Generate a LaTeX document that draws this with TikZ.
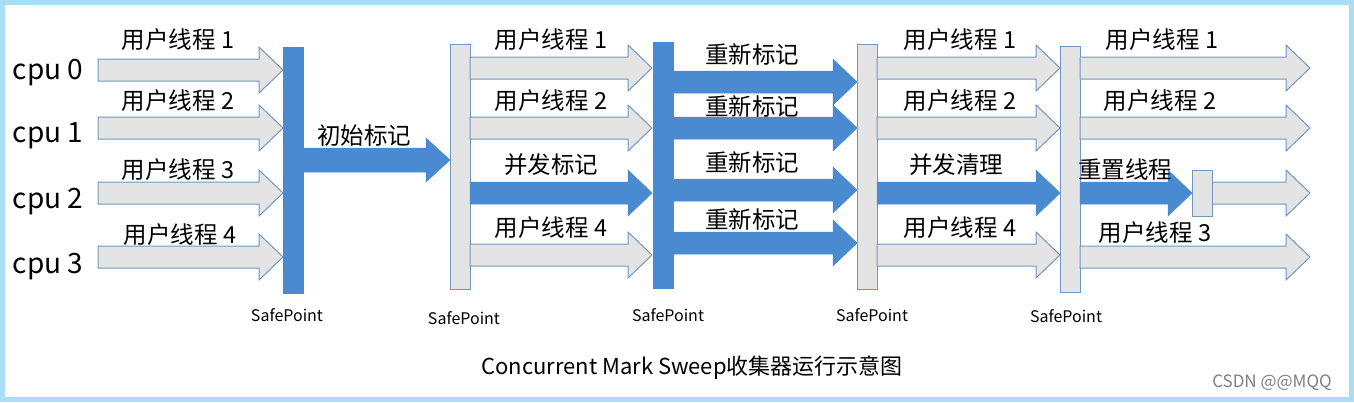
\documentclass[tikz,border=0pt]{standalone}
\usepackage{fontspec}
\setmainfont{Noto Sans CJK SC}
\definecolor{gfill}{HTML}{E4E4E4}
\definecolor{gline}{HTML}{6F97C4}
\definecolor{bfill}{HTML}{4A8AD0}
\definecolor{frame}{HTML}{A9DDF6}
\tikzset{
 garrow/.style={fill=gfill,draw=gline,line width=1pt},
 barrow/.style={fill=bfill,draw=bfill,line width=0.5pt},
 gbar/.style={fill=gfill,draw=gline,line width=1pt},
 bbar/.style={fill=bfill,draw=bfill},
 lbl/.style={font=\fontsize{23.5}{26}\selectfont,inner sep=0pt},
 cpu/.style={font=\fontsize{28}{32}\selectfont,inner sep=0pt},
 sp/.style={font=\fontsize{16}{18}\selectfont,inner sep=0pt},
}
\newcommand\myarr[4]{\path[#1] (#2,{#4-11}) -- ({#3-24},{#4-11}) -- ({#3-24},{#4-23}) -- (#3,#4) -- ({#3-24},{#4+23}) -- ({#3-24},{#4+11}) -- (#2,{#4+11}) -- cycle;}
\begin{document}
\begin{tikzpicture}[x=1pt,y=-1pt]
\useasboundingbox (0,0) rectangle (1354,402);
\fill[white] (0,0) rectangle (1354,402);
\draw[frame,line width=5pt] (2.5,2.5) rectangle (1351.5,399.5);
% cpu labels
\node[cpu] (c0) at (48,73) {cpu 0};
\node[cpu] (c1) at (48,136) {cpu 1};
\node[cpu] (c2) at (48,202) {cpu 2};
\node[cpu] (c3) at (48,267) {cpu 3};
% column 1
\myarr{garrow}{98}{283}{70}
\myarr{garrow}{98}{283}{128}
\myarr{garrow}{98}{283}{193}
\myarr{garrow}{98}{283}{257}
\node[lbl] (l11) at (178,40) {用户线程 1};
\node[lbl] (l12) at (178,101) {用户线程 2};
\node[lbl] (l13) at (178,170) {用户线程 3};
\node[lbl] (l14) at (180,235) {用户线程 4};
\node[bbar,minimum width=20pt,minimum height=246pt,inner sep=0pt] (b1) at (293,170) {};
% initial mark
\path[barrow] (303,148) -- (426,148) -- (426,138) -- (450,160) -- (426,182) -- (426,172) -- (303,172) -- cycle;
\node[lbl] (im) at (364,136) {初始标记};
% bar 2
\node[gbar,minimum width=20pt,minimum height=245pt,inner sep=0pt] (b2) at (460,167) {};
\myarr{garrow}{470}{652}{68}
\myarr{garrow}{470}{652}{128}
\myarr{barrow}{470}{652}{193}
\myarr{garrow}{470}{652}{255}
\node[lbl] (l21) at (551,40) {用户线程 1};
\node[lbl] (l22) at (551,101) {用户线程 2};
\node[lbl] (l23) at (551,165) {并发标记};
\node[lbl] (l24) at (551,228) {用户线程 4};
% bar 3
\node[bbar,minimum width=20pt,minimum height=246pt,inner sep=0pt] (b3) at (663,165) {};
\myarr{barrow}{673}{857}{82}
\myarr{barrow}{673}{857}{128}
\myarr{barrow}{673}{857}{190}
\myarr{barrow}{673}{857}{243}
\node[lbl] (l31) at (752,55) {重新标记};
\node[lbl] (l32) at (752,107) {重新标记};
\node[lbl] (l33) at (752,163) {重新标记};
\node[lbl] (l34) at (752,220) {重新标记};
% bar 4
\node[gbar,minimum width=20pt,minimum height=245pt,inner sep=0pt] (b4) at (867,167) {};
\myarr{garrow}{877}{1060}{68}
\myarr{garrow}{877}{1060}{128}
\myarr{barrow}{877}{1060}{193}
\myarr{garrow}{877}{1060}{255}
\node[lbl] (l41) at (960,40) {用户线程 1};
\node[lbl] (l42) at (960,101) {用户线程 2};
\node[lbl] (l43) at (956,165) {并发清理};
\node[lbl] (l44) at (960,228) {用户线程 4};
% bar 5
\node[gbar,minimum width=20pt,minimum height=246pt,inner sep=0pt] (b5) at (1070,169) {};
\myarr{garrow}{1080}{1310}{68}
\myarr{garrow}{1080}{1310}{128}
\myarr{barrow}{1080}{1192}{193}
\myarr{garrow}{1212}{1310}{193}
\myarr{garrow}{1080}{1310}{257}
\node[gbar,minimum width=20pt,minimum height=46pt,inner sep=0pt] (rb) at (1202,193) {};
\node[lbl] (l51) at (1162,40) {用户线程 1};
\node[lbl] (l52) at (1160,101) {用户线程 2};
\node[lbl] (l53) at (1125,170) {重置线程};
\node[lbl] (l54) at (1155,233) {用户线程 3};
% safepoint labels
\node[sp] (s1) at (287,315) {SafePoint};
\node[sp] (s2) at (464,318) {SafePoint};
\node[sp] (s3) at (668,315) {SafePoint};
\node[sp] (s4) at (872,315) {SafePoint};
\node[sp] (s5) at (1066,316) {SafePoint};
\node[inner sep=0pt,font=\fontsize{22}{24}\selectfont] (title) at (692,368) {Concurrent Mark Sweep收集器运行示意图};
\node[inner sep=0pt,font=\fontsize{17}{19}\selectfont,text=gray] (wm) at (1272,383) {CSDN @@MQQ};
\end{tikzpicture}
\end{document}
